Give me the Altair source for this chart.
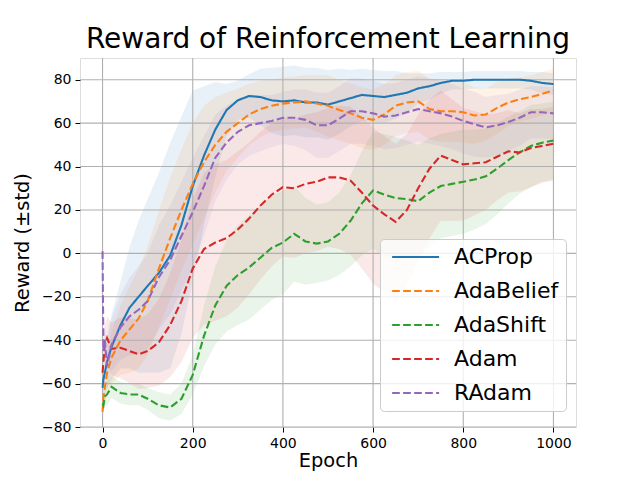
import altair as alt
import pandas as pd

epochs = [0, 2, 5, 10, 20, 40, 60, 80, 100, 125, 150, 175, 200, 225, 250, 275, 300, 325, 350, 375,
          400, 425, 450, 475, 500, 525, 550, 575, 600, 625, 650, 675, 700, 725, 750, 775, 800, 825,
          850, 875, 900, 925, 950, 975, 1000]

series_names = ["ACProp", "AdaBelief", "AdaShift", "Adam", "RAdam"]
series_colors = ["#1f77b4", "#ff7f0e", "#2ca02c", "#d62728", "#9467bd"]

acprop = [-62, -58, -55, -50, -43, -33, -25, -20, -15, -9, -1, 13, 31, 45, 57, 66, 70.5, 72.5, 72, 70.5,
          70, 70.5, 69.5, 69.5, 68.5, 70, 71.5, 73, 72.5, 72, 73, 74, 76, 77, 78.5, 79.5, 79.5, 80,
          80, 80, 80, 80, 79.5, 78.5, 78]
adabelief = [-73, -66, -62, -55, -48, -40, -35, -30, -22, -7, 7, 20, 32, 42, 50, 56, 60, 64, 66.5, 68,
             69, 69.5, 70, 69, 68, 66, 64.5, 62.5, 61.5, 64, 68, 69.5, 70, 66.5, 65.5, 65.5, 65, 63.5,
             64, 67, 69.5, 71, 72, 73.5, 75]
adashift = [-69, -70, -66, -65, -61.5, -64.3, -65, -65, -67, -70, -71, -67, -56, -38, -24, -15, -10, -6.5, -2, 2.5,
            5, 9, 5.5, 4.5, 5.5, 9, 15, 23, 29, 27, 25.5, 25, 24, 28, 31, 32, 33, 34,
            35.5, 39, 43, 46.5, 49.5, 51, 52]
adam = [-55, -50, -42, -39, -44, -43.5, -45, -46.5, -45, -41, -33, -22, -7, 2, 5, 7, 11, 16, 22, 27,
        30.5, 30, 32, 33, 35, 35, 33.5, 28, 22, 18, 14.5, 20, 30, 39, 45, 43, 41, 41.5,
        42, 44.5, 47, 46.5, 48.5, 49.5, 50.5]
radam = [1, -45, -40, -52, -42, -34, -29, -26, -22, -11, -3, 8, 19, 31, 44, 51, 56, 59, 60, 61,
         62.5, 62.5, 61.5, 59, 59, 62, 65.5, 65.5, 64.5, 63, 63.5, 65, 66.5, 65.5, 64.5, 63, 61, 59.5,
         58, 59, 60.5, 62.5, 65, 65, 64.5]

acprop_std = [5, 8, 10, 12, 15, 20, 28, 35, 40, 46, 52, 50, 44, 32, 22, 12, 9, 10, 13, 15,
              16, 16, 16, 16, 16, 15, 13, 12, 12, 12, 11, 9, 7, 6, 5, 4, 4, 4,
              4, 4, 4, 4, 4, 5, 5]
adabelief_std = [4, 6, 8, 10, 12, 16, 20, 23, 25, 27, 28, 28, 28, 26, 22, 18, 16, 14, 13, 12,
                 12, 12, 12, 13, 14, 14, 14, 14, 14, 14, 14, 14, 14, 14, 14, 14, 14, 13,
                 12, 12, 11, 10, 10, 10, 10]
adashift_std = [4, 4, 4, 5, 5, 5, 5, 5, 5, 6, 6, 7, 9, 14, 18, 21, 23, 24, 24, 24,
                24, 22, 20, 18, 18, 19, 21, 24, 27, 28, 28, 27, 26, 25, 24, 24, 24, 23,
                22, 21, 20, 19, 19, 18, 18]
adam_std = [4, 6, 8, 10, 12, 14, 15, 16, 17, 20, 24, 28, 32, 35, 36, 36, 36, 35, 34, 33,
            32, 32, 32, 32, 32, 33, 34, 35, 36, 36, 36, 35, 34, 32, 30, 28, 26, 24,
            22, 20, 19, 18, 18, 17, 17]
radam_std = [4, 6, 8, 10, 12, 15, 18, 20, 22, 24, 25, 25, 25, 23, 20, 17, 15, 14, 13, 12,
             12, 13, 14, 15, 15, 15, 15, 15, 15, 15, 15, 15, 15, 15, 15, 15, 15, 15,
             14, 14, 13, 13, 12, 12, 12]

x_ticks = [0, 200, 400, 600, 800, 1000]
y_ticks = [-80, -60, -40, -20, 0, 20, 40, 60, 80]

means = [acprop, adabelief, adashift, adam, radam]
stds = [acprop_std, adabelief_std, adashift_std, adam_std, radam_std]

rows = []
for name, m, s in zip(series_names, means, stds):
    for e, v, d in zip(epochs, m, s):
        rows.append({"epoch": e, "reward": v, "lo": v - d, "hi": v + d, "series": name})
df = pd.DataFrame(rows)

FONT = "DejaVu Sans"
xscale = alt.Scale(domain=[-50, 1050], nice=False, zero=False)
yscale = alt.Scale(domain=[-80, 90], nice=False, zero=False)
xaxis = alt.Axis(values=x_ticks, format="d", title="Epoch", grid=False, titleFontSize=19.4, titleFont=FONT,
                 titleFontWeight="normal", titlePadding=1, labelFontSize=14, labelFont=FONT,
                 tickSize=5, labelPadding=4, tickColor="black", labelColor="black", titleColor="black",
                 domain=False, labelFlush=False)
yaxis = alt.Axis(values=y_ticks, format="d", title="Reward (±std)", grid=False, titleFontSize=19.4, titleFont=FONT,
                 titleFontWeight="normal", titlePadding=9, labelFontSize=14, labelFont=FONT,
                 tickSize=5, labelPadding=4, tickColor="black", labelColor="black", titleColor="black",
                 domain=False, labelFlush=False)

color_scale = alt.Scale(domain=series_names, range=series_colors)
dash_scale = alt.Scale(domain=series_names,
                       range=[[1, 0], [7.7, 3.3], [7.7, 3.3], [7.7, 3.3], [7.7, 3.3]])

legend = alt.Legend(title=None, orient="none", legendX=300, legendY=181,
                    symbolType="M-1,0H7", symbolSize=138, symbolStrokeWidth=2.1, symbolOpacity=1,
                    labelFontSize=22, labelFont=FONT, labelColor="black", labelOffset=45,
                    rowPadding=12, padding=7, fillColor="rgba(255,255,255,0.8)",
                    strokeColor="#cccccc", cornerRadius=4)

bands = alt.Chart(df).mark_area(opacity=0.1, clip=True).encode(
    x=alt.X("epoch:Q", scale=xscale, axis=xaxis),
    y=alt.Y("lo:Q", scale=yscale, axis=yaxis),
    y2="hi:Q",
    color=alt.Color("series:N", scale=color_scale, legend=legend),
    detail="series:N",
)

xgrid = alt.Chart(pd.DataFrame({"gx": x_ticks})).mark_rule(color="#b0b0b0", strokeWidth=1.1).encode(
    x=alt.X("gx:Q", scale=xscale, axis=xaxis)
)
ygrid = alt.Chart(pd.DataFrame({"gy": y_ticks})).mark_rule(color="#b0b0b0", strokeWidth=1.1).encode(
    y=alt.Y("gy:Q", scale=yscale, axis=yaxis)
)

lines = alt.Chart(df).mark_line(strokeWidth=2.1, clip=True).encode(
    x=alt.X("epoch:Q", scale=xscale, axis=xaxis),
    y=alt.Y("reward:Q", scale=yscale, axis=yaxis),
    color=alt.Color("series:N", scale=color_scale, legend=legend),
    strokeDash=alt.StrokeDash("series:N", scale=dash_scale, legend=legend),
)

chart = alt.layer(bands, xgrid, ygrid, lines).properties(
    width=496, height=369,
    title=alt.TitleParams("Reward of Reinforcement Learning", fontSize=28, font=FONT,
                          fontWeight="normal", color="black", anchor="middle", offset=3),
    autosize=alt.AutoSizeParams(type="none"),
    padding={"left": 72, "top": 50, "right": 56, "bottom": 45},
).configure_view(stroke="black", strokeWidth=1.1).configure(background="white")

chart.save("out.html", embed_options={"renderer": "svg", "actions": False})
